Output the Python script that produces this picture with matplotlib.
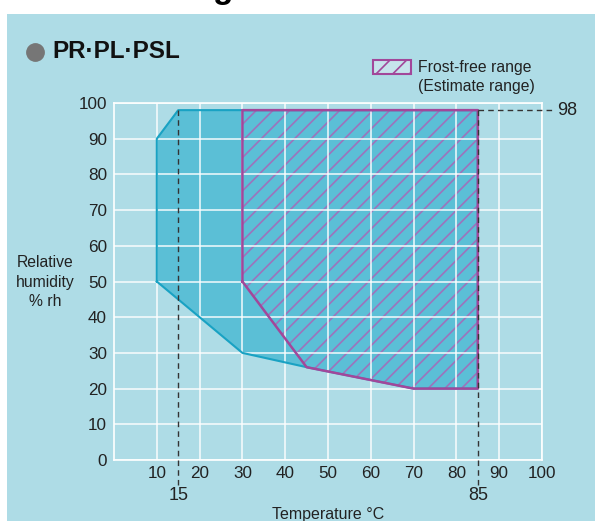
import matplotlib.pyplot as plt, numpy as np, matplotlib
from matplotlib.patches import Polygon, Rectangle, Patch
from matplotlib.lines import Line2D

matplotlib.rcParams['font.family'] = ['Liberation Sans', 'DejaVu Sans']
matplotlib.rcParams['hatch.linewidth'] = 1.2

# operating range (temperature, humidity)
op_temp = [10, 10, 15, 85, 85, 70, 45, 30, 10]
op_hum = [50, 90, 98, 98, 20, 20, 26, 30, 50]
# frost-free range (estimate)
ff_temp = [30, 30, 85, 85, 70, 45, 30]
ff_hum = [50, 98, 98, 20, 20, 26, 50]

xticks = [10, 20, 30, 40, 50, 60, 70, 80, 90, 100]
yticks = [0, 10, 20, 30, 40, 50, 60, 70, 80, 90, 100]
marks_x = [15, 85]
mark_y = 98

bg = '#aedce6'
cyan_fill = '#5bbfd6'
cyan_edge = '#19a2c3'
mag = '#a2479a'
hatch_col = (0.66, 0.40, 0.72, 0.85)
txt = '#222222'

fig = plt.figure(figsize=(5.95, 5.21), dpi=100, facecolor='white')
fig.patches.append(Rectangle((7/595, 0), 1, 1 - 14/521, transform=fig.transFigure,
                             facecolor=bg, edgecolor='none', zorder=-10))
fig.text(213/595, 1 + 2/521, 'g', fontsize=24, fontweight='bold', va='baseline')

ax = fig.add_axes([114/595, 61/521, 428/595, 357/521])
ax.set_facecolor(bg)
ax.set_xlim(0, 100)
ax.set_ylim(0, 100)

ax.add_patch(Polygon(np.column_stack([op_temp, op_hum]), closed=True,
                     facecolor=cyan_fill, edgecolor='none', zorder=1))
ax.add_patch(Polygon(np.column_stack([ff_temp, ff_hum]), closed=True,
                     facecolor='none', edgecolor=hatch_col, hatch='//', lw=0, zorder=1.5))
ax.plot(op_temp, op_hum, color=cyan_edge, lw=1.5, zorder=3)
ax.plot(ff_temp, ff_hum, color=mag, lw=1.8, zorder=3.2)

ax.set_axisbelow(False)
ax.grid(True, color='white', lw=1.2, alpha=0.85, zorder=2.5)
for s in ax.spines.values():
    s.set_color('white')
    s.set_linewidth(1.2)

ax.set_xticks(xticks)
ax.set_yticks(yticks)
ax.tick_params(length=0, labelsize=12.3, colors=txt)
ax.tick_params(axis='y', pad=5)
ax.tick_params(axis='x', pad=4)

# dashed reference lines
for mx in marks_x:
    ax.plot([mx, mx], [mark_y, -7], color='#333333', lw=1, ls=(0, (4, 3)),
            clip_on=False, zorder=4)
    ax.text(mx, -10, str(mx), ha='center', va='center', fontsize=13, color=txt)
ax.plot([marks_x[1], 103], [mark_y, mark_y], color='#333333', lw=1, ls=(0, (4, 3)),
        clip_on=False, zorder=4)
ax.text(103.6, mark_y, str(mark_y), ha='left', va='center', fontsize=13, color=txt)

ax.set_xlabel('Temperature °C', fontsize=11.5, color=txt, labelpad=19)
fig.text(45/595, 1 - 282/521, 'Relative\nhumidity\n% rh', ha='center', va='center',
         fontsize=11.3, color=txt, linespacing=1.35)

# title
fig.add_artist(Line2D([35/595], [1 - 52/521], marker='o', markersize=12.5,
                      color='#767676', transform=fig.transFigure))
fig.text(52/595, 1 - 51/521, 'PR·PL·PSL', fontsize=17.5, fontweight='bold',
         va='center', ha='left', color='#111111')

# legend
h = Patch(facecolor='#c6e3ec', edgecolor=mag, hatch='//', lw=1.5)
ax.legend([h], ['Frost-free range'], loc='upper left', frameon=False,
          bbox_to_anchor=(373/595, 1 - 60/521), bbox_transform=fig.transFigure,
          fontsize=11.3, handlelength=2.4, handleheight=0.95, handletextpad=0.45,
          borderpad=0, borderaxespad=0, labelcolor=txt)
fig.text(418/595, 1 - 87/521, '(Estimate range)', fontsize=11.3, va='center',
         ha='left', color=txt)

fig.savefig('out.png', dpi=100, facecolor='white')
